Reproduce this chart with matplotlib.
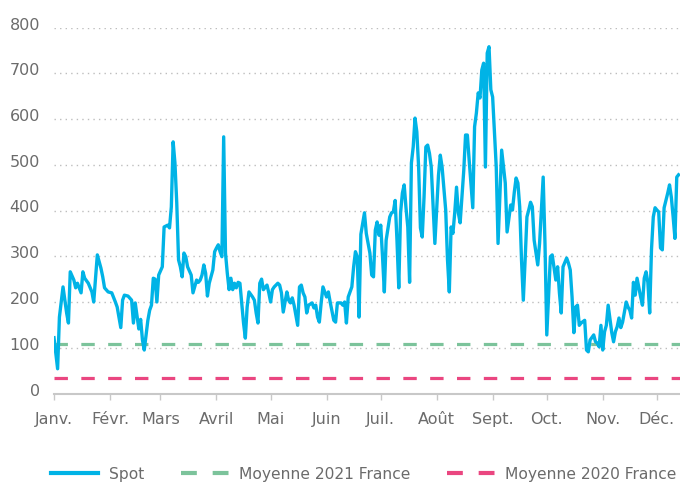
import pandas as pd
import numpy as np
import matplotlib
matplotlib.use('Agg')
import matplotlib.pyplot as plt
import matplotlib.dates as mdates
import matplotlib.transforms as mtransforms
from matplotlib.lines import Line2D

##################################
#            DONNEES             #
##################################

# jour de l'annee (0 = 1er janvier 2021) et prix spot (EUR/MWh)
jours = [0, 2, 3, 5, 7, 8, 9, 11, 12, 13, 15, 16, 17, 19, 21, 22, 24, 26, 27, 28,
         30, 32, 34, 35, 37, 38, 39, 41, 43, 44, 45, 47, 48, 49, 50, 52, 53, 54, 55, 56,
         57, 58, 60, 61, 63, 64, 65, 66, 67, 68, 69, 70, 71, 72, 73, 74, 76, 77, 79, 80,
         81, 82, 83, 84, 85, 86, 88, 89, 90, 91, 92, 93, 94, 95, 96, 97, 98, 99, 100, 101,
         102, 103, 104, 105, 106, 107, 108, 110, 111, 112, 113, 114, 115, 116, 118, 119, 120, 121, 122, 124,
         125, 126, 127, 129, 130, 131, 132, 133, 135, 136, 137, 138, 139, 140, 141, 143, 144, 145, 146, 147,
         148, 149, 151, 152, 153, 155, 156, 157, 159, 160, 161, 162, 163, 165, 166, 167, 168, 169, 170, 172,
         173, 175, 176, 177, 178, 179, 180, 181, 182, 183, 184, 186, 187, 188, 189, 190, 191, 192, 193, 194,
         195, 196, 197, 198, 199, 200, 201, 202, 203, 204, 205, 206, 207, 208, 209, 211, 213, 214, 215, 217,
         218, 219, 220, 221, 222, 223, 224, 225, 227, 228, 229, 230, 232, 233, 234, 235, 236, 237, 238, 239,
         240, 241, 242, 243, 245, 246, 248, 249, 250, 251, 253, 254, 255, 256, 257, 258, 259, 260, 261, 262,
         263, 264, 265, 266, 268, 269, 270, 271, 272, 273, 275, 276, 278, 279, 280, 281, 282, 284, 285, 286,
         287, 288, 289, 290, 291, 292, 294, 295, 296, 297, 299, 300, 301, 302, 303, 304, 305, 306, 307, 309,
         310, 311, 312, 313, 314, 315, 317, 318, 319, 320, 321, 322, 323, 325, 326, 327, 328, 329, 330, 331,
         332, 333, 334, 335, 336, 337, 338, 339, 340, 341, 342, 343, 344, 345, 346]

spot = [122, 54, 167, 233, 176, 154, 266, 248, 231, 241, 220, 266, 252, 241, 222, 200, 303, 274, 255, 231,
        222, 220, 200, 189, 144, 204, 215, 213, 204, 154, 198, 141, 162, 117, 95, 160, 182, 193, 252, 250,
        200, 259, 277, 364, 368, 362, 408, 550, 504, 417, 292, 277, 255, 307, 299, 277, 259, 220, 248, 243,
        248, 259, 281, 263, 213, 241, 270, 310, 318, 325, 310, 299, 561, 307, 263, 227, 252, 227, 241, 231,
        243, 241, 198, 154, 121, 189, 222, 211, 204, 176, 154, 241, 250, 227, 237, 220, 200, 227, 233, 241,
        237, 220, 178, 222, 204, 198, 209, 193, 149, 233, 237, 220, 211, 176, 193, 198, 187, 193, 167, 156,
        198, 233, 211, 222, 200, 160, 156, 198, 198, 193, 200, 154, 211, 233, 277, 310, 299, 167, 348, 395,
        350, 307, 259, 255, 357, 375, 346, 368, 299, 222, 335, 386, 395, 397, 422, 335, 231, 395, 438, 456,
        406, 364, 243, 504, 539, 602, 572, 495, 362, 342, 429, 539, 543, 525, 495, 328, 477, 521, 495, 401,
        292, 222, 364, 350, 395, 451, 395, 373, 487, 565, 565, 510, 406, 583, 613, 657, 646, 707, 722, 495,
        744, 758, 664, 648, 495, 328, 532, 495, 460, 353, 412, 401, 440, 471, 460, 408, 292, 204, 292, 386,
        401, 418, 408, 335, 281, 328, 401, 473, 328, 128, 299, 303, 248, 277, 220, 176, 277, 296, 285, 270,
        211, 133, 189, 193, 149, 154, 160, 95, 91, 117, 128, 113, 110, 102, 149, 95, 135, 149, 193, 133,
        113, 135, 146, 165, 144, 156, 200, 189, 182, 165, 243, 215, 252, 211, 193, 252, 266, 243, 176, 314,
        386, 406, 401, 397, 318, 314, 406, 422, 438, 456, 429, 386, 339, 473, 478]

moy_2021 = 109   # moyenne 2021 France
moy_2020 = 33    # moyenne 2020 France

mois = ['Janv.', 'Févr.', 'Mars', 'Avril', 'Mai', 'Juin', 'Juil.', 'Août',
        'Sept.', 'Oct.', 'Nov.', 'Déc.']
yticks = [0, 100, 200, 300, 400, 500, 600, 700, 800]

##################################
#            GRAPHE              #
##################################

gris = '#6b6b6b'
plt.rcParams['font.family'] = ['DejaVu Sans']

debut = pd.Timestamp('2021-01-01')
dates = debut + pd.to_timedelta(jours, unit='D')
ticks_mois = pd.date_range('2021-01-01', periods=12, freq='MS')

fig = plt.figure(figsize=(6.8, 4.82), dpi=100, facecolor='white')
ax = fig.add_axes([54 / 680, (482 - 393.5) / 482, 626 / 680, 366 / 482])

ax.plot(dates, spot, color='#00b3e6', lw=2.4, solid_joinstyle='round', zorder=4, label='Spot')
ax.axhline(moy_2021, color='#7cc39b', lw=2.3, dashes=(4.2, 4.2), zorder=3,
           label='Moyenne 2021 France')
ax.axhline(moy_2020, color='#ea4680', lw=2.3, dashes=(4.2, 4.2), zorder=3,
           label='Moyenne 2020 France')

ax.set_xlim(debut, debut + pd.Timedelta(days=346.8))
ax.set_ylim(0, 800)

ax.set_yticks(yticks)
ax.set_yticklabels([str(v) for v in yticks])
ax.set_xticks(ticks_mois)
ax.set_xticklabels(mois)

for s in ['top', 'right', 'left']:
    ax.spines[s].set_visible(False)
ax.spines['bottom'].set_color('#c8c8c8')
ax.spines['bottom'].set_linewidth(1.5)
ax.spines['bottom'].set_zorder(2)

ax.tick_params(axis='y', length=0, pad=10, labelsize=11.5, labelcolor=gris)
ax.tick_params(axis='x', length=4, width=1, color='#c8c8c8', pad=9, labelsize=11.5, labelcolor=gris)

# etiquettes de l'axe y un peu au-dessus des lignes
decal = mtransforms.ScaledTranslation(0, 4 / 100, fig.dpi_scale_trans)
for lab in ax.get_yticklabels():
    lab.set_transform(lab.get_transform() + decal)

ax.grid(axis='y', color='#bdbdbd', lw=1, linestyle=(0, (1, 3)))
ax.grid(axis='x', visible=False)
ax.set_axisbelow(True)

handles = [Line2D([], [], color='#00b3e6', lw=3),
           Line2D([], [], color='#7cc39b', lw=3, dashes=(3.8, 3.8)),
           Line2D([], [], color='#ea4680', lw=3, dashes=(3.8, 3.8))]
labels = ['Spot', 'Moyenne 2021 France', 'Moyenne 2020 France']
leg = fig.legend(handles, labels, loc='center left', bbox_to_anchor=(51 / 680, 8 / 482),
                 ncol=3, frameon=False, handlelength=3.05, handletextpad=0.65,
                 columnspacing=2.4, borderaxespad=0, borderpad=0, fontsize=11.2)
for t in leg.get_texts():
    t.set_color(gris)

fig.savefig('out.png', dpi=100, facecolor='white')
